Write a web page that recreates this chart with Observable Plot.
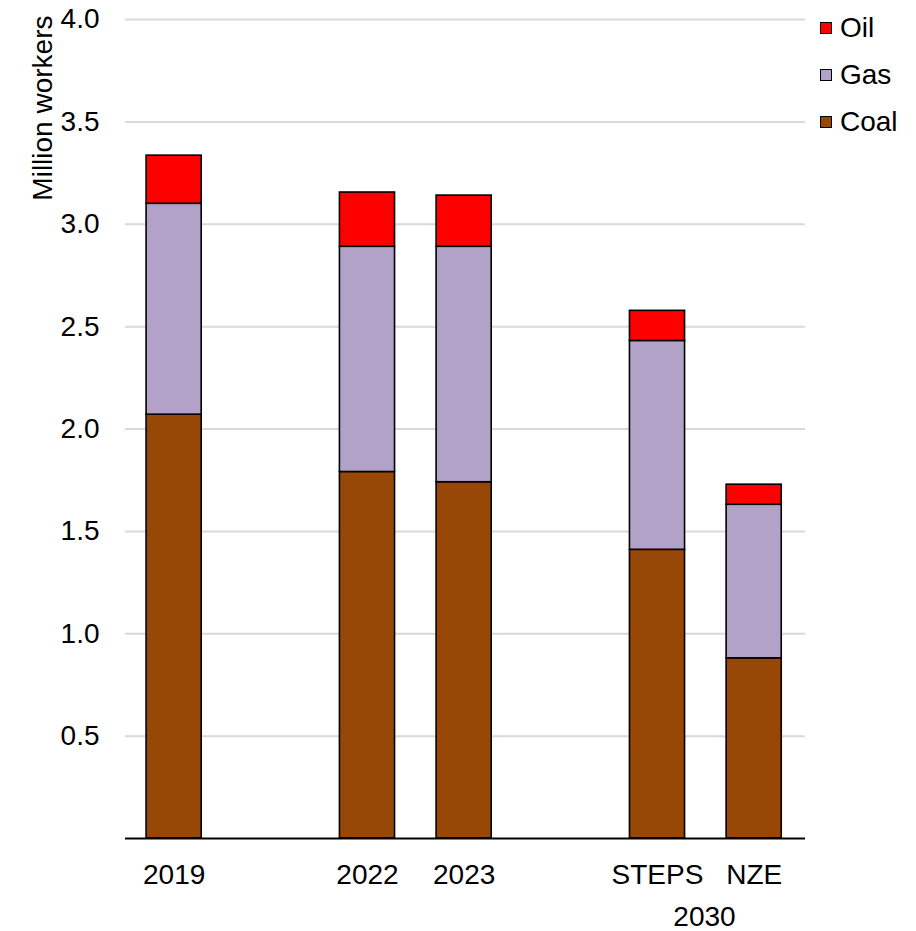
<!DOCTYPE html>
<html>
<head>
<meta charset="utf-8">
<script src="https://cdn.jsdelivr.net/npm/d3@7"></script>
<script src="https://cdn.jsdelivr.net/npm/@observablehq/plot@0.6"></script>
<style>
  html, body { margin: 0; padding: 0; background: #fff; }
  #wrap { position: relative; width: 916px; height: 931px; font-family: "Liberation Sans", Arial, sans-serif; }
  #legend { position: absolute; left: 820px; top: 4px; font-size: 28px; color: #000; }
  .item { display: flex; align-items: center; height: 47px; }
  .sw { width: 10px; height: 10px; border: 1.5px solid #000; margin-right: 8px; box-sizing: content-box; }
</style>
</head>
<body>
<div id="wrap"><div id="legend"></div></div>
<script>
const slots = ["2019", "gapA", "2022", "2023", "gapB", "STEPS", "NZE"];
const categories = ["2019", "2022", "2023", "STEPS", "NZE"];
const coal = [2.07, 1.79, 1.74, 1.41, 0.88];
const gas  = [1.03, 1.10, 1.15, 1.02, 0.75];
const oil  = [0.235, 0.265, 0.25, 0.147, 0.098];
const fuels = ["Coal", "Gas", "Oil"];
const colors = ["#974706", "#B3A2C7", "#FF0000"];
const yTicks = [0.5, 1.0, 1.5, 2.0, 2.5, 3.0, 3.5, 4.0];
const groupLabel = "2030";
const yLabel = "Million workers";

const rows = [];
categories.forEach((c, i) => {
  rows.push({cat: c, fuel: "Coal", v: coal[i]});
  rows.push({cat: c, fuel: "Gas", v: gas[i]});
  rows.push({cat: c, fuel: "Oil", v: oil[i]});
});

const font = "Liberation Sans, Arial, sans-serif";
const chart = Plot.plot({
  width: 916,
  height: 931,
  marginLeft: 125,
  marginRight: 111,
  marginTop: 19,
  marginBottom: 93,
  style: {fontFamily: font, fontSize: "28px", color: "#000", background: "#fff"},
  x: {domain: slots, paddingInner: 0.43, paddingOuter: 0.232, align: 0.47, round: false, label: null},
  y: {domain: [0, 4], label: null},
  color: {domain: fuels, range: colors},
  marks: [
    Plot.gridY(yTicks, {stroke: "#d9d9d9", strokeOpacity: 1, strokeWidth: 2}),
    Plot.axisY(yTicks, {tickSize: 0, tickPadding: 26, tickFormat: d3.format(".1f"), fontSize: 28, label: null}),
    Plot.axisX(categories, {tickSize: 0, tickPadding: 26, fontSize: 28, label: null}),
    Plot.barY(rows, Plot.stackY({x: "cat", y: "v", fill: "fuel", stroke: "#000", strokeWidth: 1.6, order: fuels})),
    Plot.ruleY([0], {stroke: "#000", strokeWidth: 2}),
    Plot.text([groupLabel], {x: () => "STEPS", frameAnchor: "bottom", text: d => d, dx: 47, dy: 68, fontSize: 28, lineAnchor: "top"}),
    Plot.text([yLabel], {frameAnchor: "top-left", text: d => d, rotate: -90, textAnchor: "end", dx: -93, dy: -4, fontSize: 28})
  ]
});
document.getElementById("wrap").prepend(chart);

const legend = document.getElementById("legend");
[...fuels].reverse().forEach(f => {
  const it = document.createElement("div");
  it.className = "item";
  const sw = document.createElement("span");
  sw.className = "sw";
  sw.style.background = colors[fuels.indexOf(f)];
  const t = document.createElement("span");
  t.textContent = f;
  it.append(sw, t);
  legend.append(it);
});
</script>
</body>
</html>
